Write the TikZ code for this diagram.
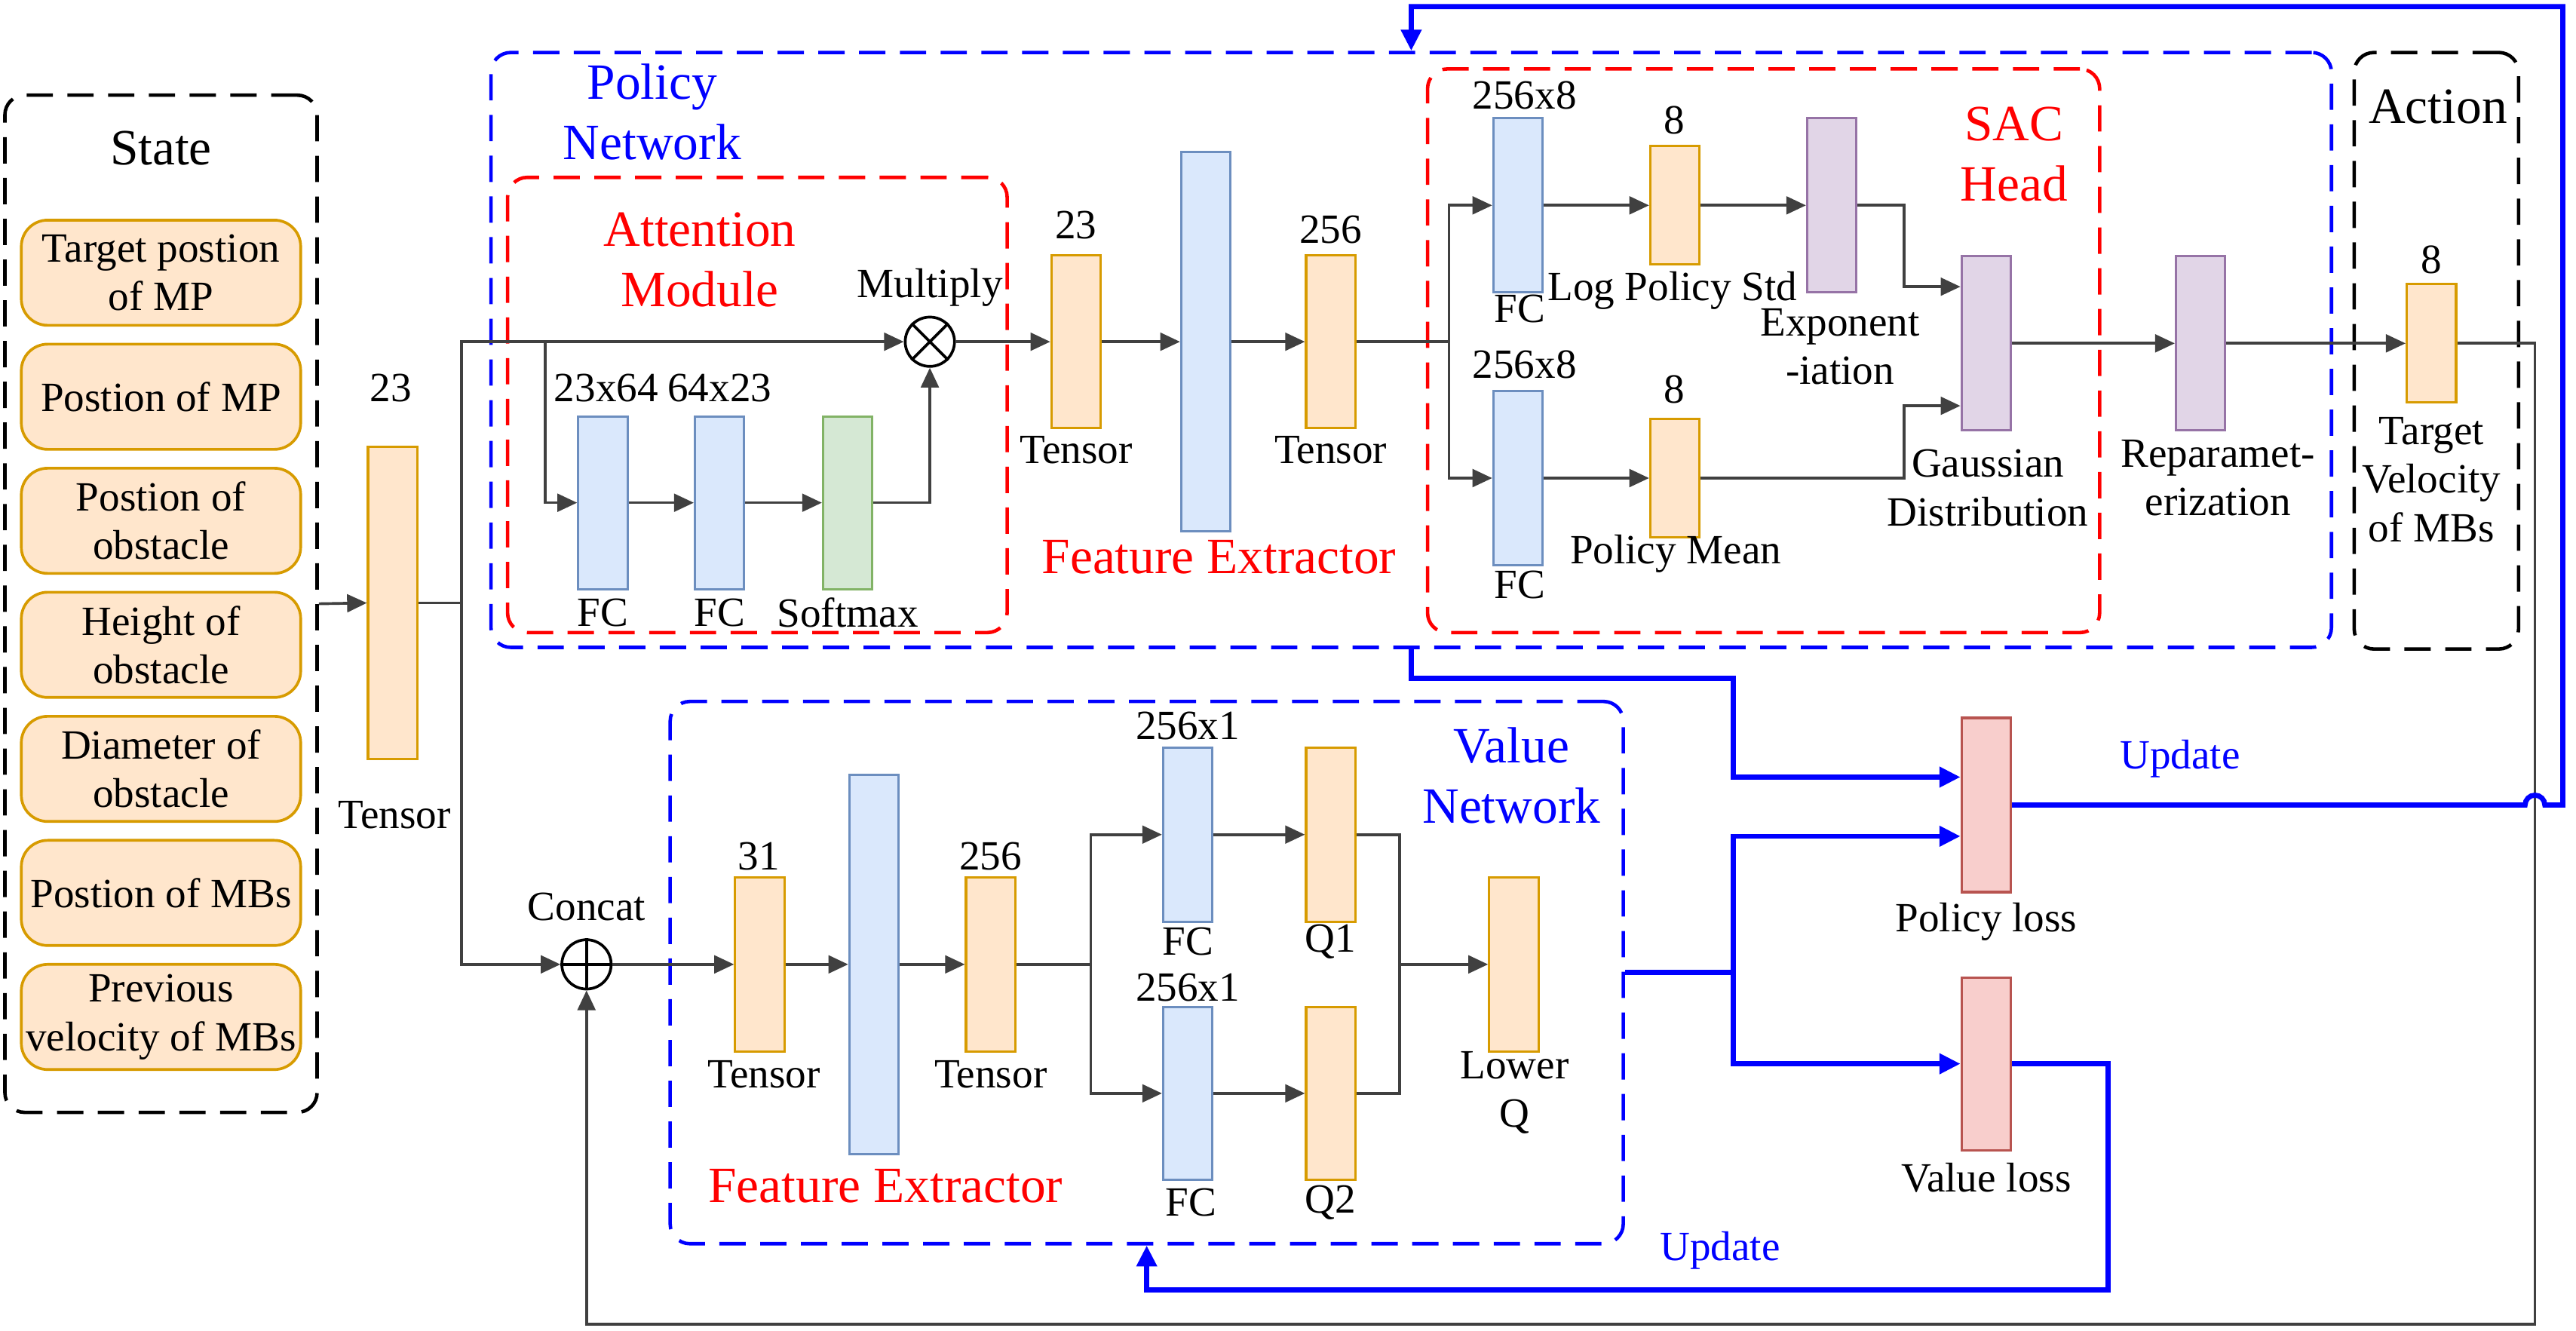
\documentclass[tikz,border=0pt]{standalone}
\usepackage{fontspec}
\setmainfont{Liberation Serif}
\usetikzlibrary{arrows.meta,calc}
\usepackage{xcolor}

\definecolor{tenF}{HTML}{FFE6CC}
\definecolor{tenD}{HTML}{D79B00}
\definecolor{fcF}{HTML}{DAE8FC}
\definecolor{fcD}{HTML}{6C8EBF}
\definecolor{smF}{HTML}{D5E8D4}
\definecolor{smD}{HTML}{82B366}
\definecolor{gaF}{HTML}{E1D5E7}
\definecolor{gaD}{HTML}{9673A6}
\definecolor{lsF}{HTML}{F8CECC}
\definecolor{lsD}{HTML}{B85450}

\newcommand{\labfont}{\fontsize{18}{21}\selectfont}
\newcommand{\headfont}{\fontsize{22}{26}\selectfont}

\tikzset{
  bar/.style={draw, line width=1pt, minimum width=0.75cm, inner sep=0pt},
  tens/.style={bar, draw=tenD, fill=tenF},
  fcb/.style={bar, draw=fcD, fill=fcF},
  smx/.style={bar, draw=smD, fill=smF},
  gau/.style={bar, draw=gaD, fill=gaF},
  lss/.style={bar, draw=lsD, fill=lsF},
  inbox/.style={draw=tenD, fill=tenF, line width=1.2pt, rounded corners=0.4cm,
    minimum width=4.25cm, minimum height=1.6cm, align=center, font=\labfont, inner sep=0pt},
  grp/.style={dash pattern=on 0.4cm off 0.22cm, line width=1.5pt, rounded corners=0.3cm, inner sep=0pt},
  txt/.style={font=\labfont, inner sep=0pt, align=center},
  hd/.style={font=\headfont, inner sep=0pt, align=center},
  con/.style={draw=black!75, line width=1.2pt},
  arr/.style={con, -{Triangle[length=0.3cm, width=0.27cm]}},
  blu/.style={draw=blue, line width=2.2pt},
  barr/.style={blu, -{Triangle[length=0.32cm, width=0.3cm]}},
  oper/.style={circle, draw, line width=1.2pt, minimum size=0.75cm, inner sep=0pt},
}

\begin{document}
\begin{tikzpicture}[x=0.025cm, y=-0.025cm]
\useasboundingbox (0,0) rectangle (1568,810);

% groups
\node[grp, draw=black, minimum width=4.75cm, minimum height=15.475cm] (state) at (98,367.5) {};
\node[grp, draw=blue, minimum width=28cm, minimum height=9.05cm] (pn) at (859,213) {};
\node[grp, draw=red, minimum width=7.6cm, minimum height=6.925cm] (att) at (461,246.5) {};
\node[grp, draw=red, minimum width=10.225cm, minimum height=8.575cm] (sac) at (1073.5,213.5) {};
\node[grp, draw=black, minimum width=2.5cm, minimum height=9.075cm] (act) at (1483,213.5) {};
\node[grp, draw=blue, minimum width=14.5cm, minimum height=8.25cm] (vn) at (698,592) {};

\node[hd] (tstate) at (98,90) {State};
\node[hd, text=blue] (tpn) at (397,68) {Policy\\Network};
\node[hd, text=red] (tatt) at (426,158) {Attention\\Module};
\node[hd, text=red] (tsac) at (1226,94) {SAC\\Head};
\node[hd] (tact) at (1484,65) {Action};
\node[hd, text=blue] (tvn) at (920,472) {Value\\Network};
\node[hd, text=red] (tfe1) at (742,339) {Feature Extractor};
\node[hd, text=red] (tfe2) at (539,722) {Feature Extractor};

% state inputs
\node[inbox] (s1) at (98,166) {Target postion\\of MP};
\node[inbox] (s2) at (98,241.5) {Postion of MP};
\node[inbox] (s3) at (98,317) {Postion of\\obstacle};
\node[inbox] (s4) at (98,392.5) {Height of\\obstacle};
\node[inbox] (s5) at (98,468) {Diameter of\\obstacle};
\node[inbox] (s6) at (98,543.5) {Postion of MBs};
\node[inbox] (s7) at (98,619) {Previous\\velocity of MBs};

% input tensor
\node[tens, minimum height=4.75cm] (tin) at (239,367) {};
\node[txt] (ltin) at (238,236) {23};
\node[txt] (ttin) at (240,496) {Tensor};

% attention
\node[fcb, minimum height=2.625cm] (fc1) at (367,306) {};
\node[fcb, minimum height=2.625cm] (fc2) at (438,306) {};
\node[smx, minimum height=2.625cm] (soft) at (516,306) {};
\node[txt] (lfc1) at (369,236) {23x64};
\node[txt] (lfc2) at (438,236) {64x23};
\node[txt] (tfc1) at (367,373) {FC};
\node[txt] (tfc2) at (438,373) {FC};
\node[txt] (tsoft) at (516,373) {Softmax};
\node[oper] (mult) at (566,208) {};
\draw[line width=1.2pt] (mult.45) -- (mult.225) (mult.135) -- (mult.315);
\node[txt] (tmult) at (566,175) {Multiply};

% policy feature extractor
\node[tens, minimum height=2.625cm] (t23) at (655,208) {};
\node[fcb, minimum height=5.775cm] (fe1) at (734,208) {};
\node[tens, minimum height=2.625cm] (t256) at (810,208) {};
\node[txt] (lt23) at (655,137) {23};
\node[txt] (tt23) at (655,274) {Tensor};
\node[txt] (lt256) at (810,140) {256};
\node[txt] (tt256) at (810,274) {Tensor};

% SAC head
\node[fcb, minimum height=2.65cm] (fcs) at (924,125) {};
\node[tens, minimum height=1.8cm] (ls) at (1019.5,125) {};
\node[gau, minimum height=2.65cm] (ex) at (1115,125) {};
\node[fcb, minimum height=2.65cm] (fcm) at (924,291) {};
\node[tens, minimum height=1.8cm] (pm) at (1019.5,291) {};
\node[gau, minimum height=2.65cm] (gd) at (1209,209) {};
\node[gau, minimum height=2.65cm] (rp) at (1339.5,209) {};
\node[tens, minimum height=1.8cm] (tv) at (1480,209) {};
\node[txt] (lfcs) at (928,58) {256x8};
\node[txt] (lls) at (1019,73) {8};
\node[txt] (tfcs) at (925,188) {FC};
\node[txt] (tls) at (1018,177) {Log Policy Std};
\node[txt] (tex) at (1120,211) {Exponent\\-iation};
\node[txt] (lfcm) at (928,222) {256x8};
\node[txt] (lpm) at (1019,237) {8};
\node[txt] (tfcm) at (925,356) {FC};
\node[txt] (tpm) at (1020,337) {Policy Mean};
\node[txt] (tgd) at (1210,297) {Gaussian\\Distribution};
\node[txt] (trp) at (1350,291) {Reparamet-\\erization};
\node[txt] (ltv) at (1480,158) {8};
\node[txt] (ttv) at (1480,292) {Target\\Velocity\\of MBs};

% value network
\node[oper] (cc) at (357,587) {};
\draw[line width=1.2pt] (cc.north) -- (cc.south) (cc.west) -- (cc.east);
\node[txt] (tcc) at (357,552) {Concat};
\node[tens, minimum height=2.65cm] (t31) at (462.5,587) {};
\node[fcb, minimum height=5.775cm] (fe2) at (532,587) {};
\node[tens, minimum height=2.65cm] (t256b) at (603,587) {};
\node[txt] (lt31) at (462,521) {31};
\node[txt] (tt31) at (465,654) {Tensor};
\node[txt] (lt256b) at (603,521) {256};
\node[txt] (tt256b) at (603,654) {Tensor};
\node[fcb, minimum height=2.65cm] (fq1) at (723,508) {};
\node[tens, minimum height=2.65cm] (q1) at (810,508) {};
\node[fcb, minimum height=2.625cm] (fq2) at (723,665.5) {};
\node[tens, minimum height=2.625cm] (q2) at (810,665.5) {};
\node[tens, minimum height=2.65cm] (lq) at (921.5,587) {};
\node[txt] (lfq1) at (723,442) {256x1};
\node[txt] (tfq1) at (723,573) {FC};
\node[txt] (tq1) at (810,573) {Q1};
\node[txt] (lfq2) at (723,601) {256x1};
\node[txt] (tfq2) at (725,732) {FC};
\node[txt] (tq2) at (810,732) {Q2};
\node[txt] (tlq) at (922,665) {Lower\\Q};

% losses
\node[lss, minimum height=2.65cm] (ploss) at (1209,490) {};
\node[lss, minimum height=2.625cm] (vloss) at (1209,647.5) {};
\node[txt] (tploss) at (1209,561) {Policy loss};
\node[txt] (tvloss) at (1209,717) {Value loss};
\node[txt, text=blue] (up1) at (1327,462) {Update};
\node[txt, text=blue] (up2) at (1047,761) {Update};

% connectors
\draw[arr] (state.east) -- (tin.west);
\draw[con] (tin.east) -- (281,367) coordinate (sp);
\draw[arr] (sp) |- (mult.west);
\draw[arr] (sp) |- (cc.west);
\draw[arr] (332,208) |- (fc1.west);
\draw[arr] (fc1.east) -- (fc2.west);
\draw[arr] (fc2.east) -- (soft.west);
\draw[arr] (soft.east) -| (mult.south);
\draw[arr] (mult.east) -- (t23.west);
\draw[arr] (t23.east) -- (fe1.west);
\draw[arr] (fe1.east) -- (t256.west);
\draw[con] (t256.east) -- (882,208) coordinate (sb);
\draw[arr] (sb) |- (fcs.west);
\draw[arr] (sb) |- (fcm.west);
\draw[arr] (fcs.east) -- (ls.west);
\draw[arr] (ls.east) -- (ex.west);
\draw[arr] (fcm.east) -- (pm.west);
\draw[arr] (ex.east) -- (1159,125) |- ($(gd.west)+(0,-34.5)$);
\draw[arr] (pm.east) -- (1159,291) |- ($(gd.west)+(0,38)$);
\draw[arr] (gd.east) -- (rp.west);
\draw[arr] (rp.east) -- (tv.west);
\draw[arr] (tv.east) -| (1543,806) -| (cc.south);

\draw[arr] (cc.east) -- (t31.west);
\draw[arr] (t31.east) -- (fe2.west);
\draw[arr] (fe2.east) -- (t256b.west);
\draw[con] (t256b.east) -- (664,587) coordinate (vb);
\draw[arr] (vb) |- (fq1.west);
\draw[arr] (vb) |- (fq2.west);
\draw[arr] (fq1.east) -- (q1.west);
\draw[arr] (fq2.east) -- (q2.west);
\draw[con] (q1.east) -- (852,508) -- (852,665.5) -- (q2.east);
\draw[arr] (852,587) -- (lq.west);

% update paths
\draw[blu] (vn.east) -- (1055,592) coordinate (bj);
\draw[barr] (bj) |- ($(ploss.west)+(0,19)$);
\draw[barr] (bj) |- (vloss.west);
\draw[barr] (pn.south) |- (1055,413) -- (1055,473) -- ($(ploss.west)+(0,-17)$);
\draw[barr] (ploss.east) -- (1537,490) arc[start angle=180, end angle=0, radius=0.15cm]
  -- (1560,490) |- (859,4) -- (pn.north);
\draw[barr] (vloss.east) -- (1283,647.5) |- (698,785) -- (vn.south);

\end{tikzpicture}
\end{document}
